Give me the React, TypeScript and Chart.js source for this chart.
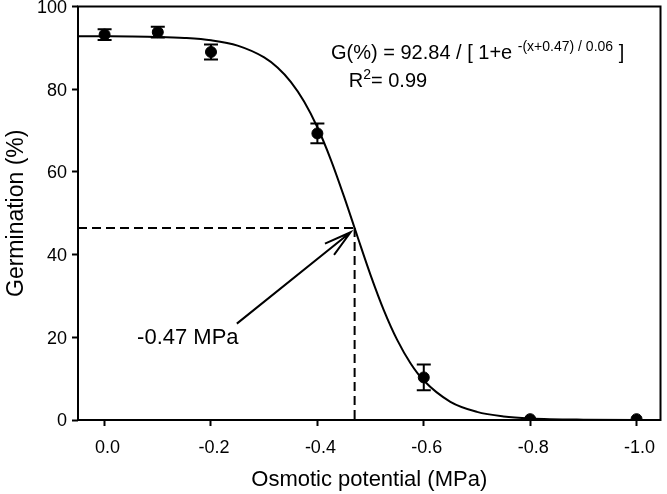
import React, { useEffect, useRef } from "react";
import { Chart, registerables } from "chart.js";

Chart.register(...registerables);

// Measured germination (%) with standard errors
const pointX = [0, -0.1, -0.2, -0.4, -0.6, -0.8, -1.0];
const pointY = [93.2, 93.8, 89.0, 69.3, 10.3, 0.2, 0.2];
const pointErr = [1.3, 1.3, 1.8, 2.4, 3.1, 0, 0];

// Fitted sigmoid curve
const curveX = [0.05, 0, -0.05, -0.1, -0.15, -0.2, -0.25, -0.3, -0.325, -0.35, -0.375, -0.4, -0.425, -0.45, -0.475, -0.5, -0.525, -0.55, -0.575, -0.6, -0.65, -0.7, -0.75, -0.8, -0.9, -1.0, -1.045];
const curveY = [92.82, 92.8, 92.76, 92.65, 92.39, 91.82, 90.53, 87.68, 85.24, 81.78, 77.03, 70.79, 63.05, 54.08, 44.49, 35.05, 26.52, 19.37, 13.74, 9.54, 4.4, 1.97, 0.87, 0.38, 0.07, 0.01, 0.01];

// 50% germination point
const halfX = -0.47;
const halfY = 46.42;

const xTickValues = [0, -0.2, -0.4, -0.6, -0.8, -1.0];
const xTickLabels = ["0.0", "-0.2", "-0.4", "-0.6", "-0.8", "-1.0"];
const yTickValues = [0, 20, 40, 60, 80, 100];

const FONT = '"Liberation Sans", Arial, sans-serif';

const annotations = {
  id: "annotations",
  afterDatasetsDraw(chart: any) {
    const { ctx, chartArea: a, scales } = chart;
    const x = scales.x;
    const y = scales.y;
    ctx.save();
    ctx.strokeStyle = "#000";
    ctx.fillStyle = "#000";
    ctx.lineWidth = 2;

    // error bars
    const cap = 7;
    pointX.forEach((v, i) => {
      if (pointErr[i] <= 0) return;
      const px = x.getPixelForValue(v);
      const t = y.getPixelForValue(pointY[i] + pointErr[i]);
      const b = y.getPixelForValue(pointY[i] - pointErr[i]);
      ctx.beginPath();
      ctx.moveTo(px, t);
      ctx.lineTo(px, b);
      ctx.moveTo(px - cap, t);
      ctx.lineTo(px + cap, t);
      ctx.moveTo(px - cap, b);
      ctx.lineTo(px + cap, b);
      ctx.stroke();
    });

    // dashed guide lines
    const hx = x.getPixelForValue(halfX);
    const hy = y.getPixelForValue(halfY);
    ctx.setLineDash([9, 5]);
    ctx.beginPath();
    ctx.moveTo(a.left, hy);
    ctx.lineTo(hx, hy);
    ctx.moveTo(hx, hy);
    ctx.lineTo(hx, a.bottom);
    ctx.stroke();
    ctx.setLineDash([]);

    // arrow
    const tx = x.getPixelForValue(-0.2486);
    const ty = y.getPixelForValue(23.3);
    const ax = x.getPixelForValue(-0.4624);
    const ay = y.getPixelForValue(45.4);
    ctx.beginPath();
    ctx.moveTo(tx, ty);
    ctx.lineTo(ax, ay);
    const ang = Math.atan2(ty - ay, tx - ax);
    const len = 28;
    const spread = (15 * Math.PI) / 180;
    ctx.moveTo(ax + len * Math.cos(ang + spread), ay + len * Math.sin(ang + spread));
    ctx.lineTo(ax, ay);
    ctx.lineTo(ax + len * Math.cos(ang - spread), ay + len * Math.sin(ang - spread));
    ctx.stroke();

    // texts
    ctx.textBaseline = "alphabetic";
    ctx.textAlign = "left";
    ctx.font = `22px ${FONT}`;
    ctx.fillText("-0.47 MPa", x.getPixelForValue(-0.0611), y.getPixelForValue(18.3));

    // equation
    let ex = x.getPixelForValue(-0.4256);
    const ey = y.getPixelForValue(87.2);
    const main = `20px ${FONT}`;
    const sup = `14px ${FONT}`;
    const pieces: [string, string, number][] = [
      ["G(%) = 92.84 / [ 1+e ", main, 0],
      ["-(x+0.47) / 0.06", sup, -8],
      [" ]", main, 0],
    ];
    pieces.forEach(([t, f, dy]) => {
      ctx.font = f;
      ctx.fillText(t, ex, ey + dy);
      ex += ctx.measureText(t).width;
    });

    let rx = x.getPixelForValue(-0.459);
    const ry = y.getPixelForValue(80.5);
    const rPieces: [string, string, number][] = [
      ["R", main, 0],
      ["2", sup, -8],
      ["= 0.99", main, 0],
    ];
    rPieces.forEach(([t, f, dy]) => {
      ctx.font = f;
      ctx.fillText(t, rx, ry + dy);
      rx += ctx.measureText(t).width;
    });

    // frame
    ctx.lineWidth = 2;
    ctx.strokeRect(a.left, a.top, a.right - a.left, a.bottom - a.top);
    ctx.restore();
  },
};

export default function App() {
  const ref = useRef<HTMLCanvasElement>(null);
  useEffect(() => {
    if (!ref.current) return;
    Chart.defaults.font.family = FONT;
    Chart.defaults.color = "#000";
    const chart = new Chart(ref.current, {
      type: "scatter",
      data: {
        datasets: [
          {
            data: curveX.map((v, i) => ({ x: v, y: curveY[i] })),
            showLine: true,
            pointRadius: 0,
            borderColor: "#000",
            borderWidth: 2,
            cubicInterpolationMode: "monotone",
            fill: false,
          },
          {
            data: pointX.map((v, i) => ({ x: v, y: pointY[i] })),
            pointRadius: 5.5,
            pointBackgroundColor: "#000",
            pointBorderColor: "#000",
            showLine: false,
          },
        ],
      } as any,
      plugins: [annotations],
      options: {
        animation: false,
        responsive: false,
        events: [],
        layout: { padding: { top: 5, right: 4, left: 0, bottom: 0 } },
        plugins: {
          legend: { display: false },
          tooltip: { enabled: false },
        },
        scales: {
          x: {
            type: "linear",
            min: -1.045,
            max: 0.05,
            reverse: true,
            afterBuildTicks: (s: any) => {
              s.ticks = xTickValues.map((value) => ({ value }));
            },
            afterFit: (s: any) => {
              s.height = 74;
              s.paddingLeft = 0;
              s.paddingRight = 0;
            },
            grid: {
              drawOnChartArea: false,
              drawTicks: true,
              tickLength: 6,
              tickWidth: 2,
              tickColor: "#000",
            },
            border: { display: false },
            ticks: {
              font: { size: 18 },
              color: "#000",
              padding: 11,
              labelOffset: 3,
              maxRotation: 0,
              callback: (_v: any, i: number) => xTickLabels[i],
            },
            title: {
              display: true,
              text: "Osmotic potential (MPa)",
              font: { size: 22 },
              color: "#000",
              padding: { top: 0, bottom: 1 },
            },
          },
          y: {
            type: "linear",
            min: 0,
            max: 100,
            afterBuildTicks: (s: any) => {
              s.ticks = yTickValues.map((value) => ({ value }));
            },
            afterFit: (s: any) => {
              s.width = 78;
              s.paddingTop = 0;
              s.paddingBottom = 0;
            },
            grid: {
              drawOnChartArea: false,
              drawTicks: true,
              tickLength: 6,
              tickWidth: 2,
              tickColor: "#000",
            },
            border: { display: false },
            ticks: {
              font: { size: 18 },
              color: "#000",
              padding: 5,
              labelOffset: 1.5,
            },
            title: {
              display: true,
              text: "Germination (%)",
              font: { size: 23 },
              color: "#000",
              padding: { top: 3, bottom: 0 },
            },
          },
        },
      } as any,
    });
    return () => chart.destroy();
  }, []);
  return (
    <div style={{ position: "fixed", left: 0, top: 0, width: 667, height: 494, background: "#fff" }}>
      <canvas ref={ref} width={667} height={494} style={{ display: "block" }} />
    </div>
  );
}
